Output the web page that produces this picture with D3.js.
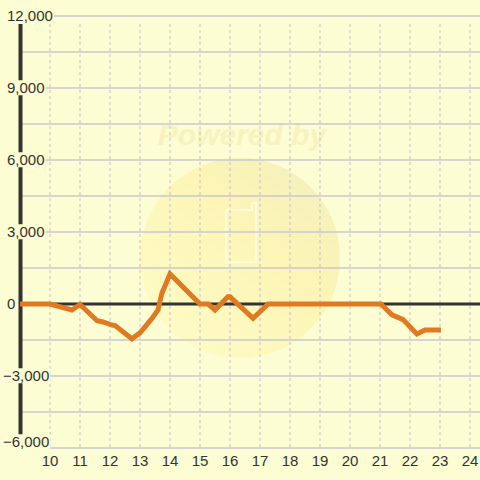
<!DOCTYPE html>
<html>
<head>
<meta charset="utf-8">
<script src="https://cdn.jsdelivr.net/npm/d3@7"></script>
<style>
  body { margin: 0; background: #fcfdd2; }
  svg { display: block; font-family: "Liberation Sans", Arial, sans-serif; }
</style>
</head>
<body>
<div id="chart"></div>
<script>
// series (x = hour, y = value)
var xs = [9, 10, 10.73, 11.0, 11.57, 11.77, 12.07, 12.17, 12.73, 13.0, 13.4, 13.6, 13.73, 14.0,
          15.0, 15.27, 15.5, 15.93, 16.0, 16.77, 17.27, 18, 19, 20, 21.03, 21.4, 21.77, 22.23, 22.5, 23.03]
var ys = [0, 0, -250, -20, -700, -750, -875, -900, -1450, -1200, -600, -250, 450, 1250,
          0, 0, -250, 300, 300, -600, 0, 0, 0, 0, 0, -450, -650, -1250, -1080, -1080]
var yTicks = [-6000, -3000, 0, 3000, 6000, 9000, 12000]
var yMinor = [-6000, -4500, -3000, -1500, 0, 1500, 3000, 4500, 6000, 7500, 9000, 10500, 12000]
var xTicks = [10, 11, 12, 13, 14, 15, 16, 17, 18, 19, 20, 21, 22, 23, 24]

var W = 480, H = 480, bg = "#fcfdd2"
var x = d3.scaleLinear().domain([9, 24]).range([20, 470])
var y = d3.scaleLinear().domain([-6000, 12000]).range([448, 16])
var fmt = d3.format(",")

var svg = d3.select("#chart").append("svg").attr("width", W).attr("height", H)
svg.append("rect").attr("width", W).attr("height", H).attr("fill", bg)

// faint watermark
var defs = svg.append("defs")
var grad = defs.append("linearGradient").attr("id", "wm").attr("x1", "0").attr("y1", "1").attr("x2", "1").attr("y2", "0")
grad.append("stop").attr("offset", "0").attr("stop-color", "#fdfcc8")
grad.append("stop").attr("offset", "0.6").attr("stop-color", "#fcf5b6")
grad.append("stop").attr("offset", "1").attr("stop-color", "#f3efc0")
svg.append("circle").attr("cx", 240).attr("cy", 258).attr("r", 100).attr("fill", "url(#wm)")
svg.append("text").attr("x", 242).attr("y", 145).attr("text-anchor", "middle")
    .attr("font-size", 30).attr("font-weight", "bold").attr("font-style", "italic")
    .attr("fill", "#f8f2bf").text("Powered by")
svg.append("path").attr("d", "M226,214 V262 H256 V203 H252 V210 H226 Z")
    .attr("fill", "none").attr("stroke", "#fdfbdc").attr("stroke-width", 2)

// grid
svg.append("g").selectAll("line").data(yMinor).join("line")
    .attr("x1", 21).attr("x2", W).attr("y1", d => y(d)).attr("y2", d => y(d))
    .attr("stroke", "#c8c8cc").attr("stroke-width", 1.5)
svg.append("g").selectAll("line").data(xTicks).join("line")
    .attr("x1", d => x(d)).attr("x2", d => x(d)).attr("y1", 24).attr("y2", 448)
    .attr("stroke", "#c2c2c6").attr("stroke-width", 1).attr("stroke-dasharray", "3,3")

// axes
svg.append("line").attr("x1", 20.5).attr("x2", 20.5).attr("y1", 24).attr("y2", 448)
    .attr("stroke", "#333").attr("stroke-width", 4)
svg.append("line").attr("x1", 21).attr("x2", W).attr("y1", y(0)).attr("y2", y(0))
    .attr("stroke", "#333").attr("stroke-width", 3)

// series
var pts = xs.map((v, i) => [v, ys[i]])
svg.append("path").datum(pts)
    .attr("d", d3.line().x(d => x(d[0])).y(d => y(d[1])))
    .attr("fill", "none").attr("stroke", "#e07a22").attr("stroke-width", 5)
    .attr("stroke-linejoin", "miter")

// y labels with background boxes
var yl = svg.append("g").selectAll("g").data(yTicks).join("g")
yl.append("text")
    .attr("x", d => d < 0 ? 3 : 7).attr("y", d => Math.min(y(d), 442)).attr("dy", "0.35em")
    .attr("font-size", 15).attr("fill", "#333").text(d => fmt(d))
    .each(function () {
        var b = this.getBBox()
        d3.select(this.parentNode).insert("rect", "text")
            .attr("x", b.x - 1).attr("y", b.y + 1).attr("width", b.width + 2).attr("height", b.height - 2)
            .attr("fill", bg)
    })

// x labels
svg.append("g").selectAll("text").data(xTicks).join("text")
    .attr("x", d => x(d)).attr("y", 466).attr("text-anchor", "middle")
    .attr("font-size", 15).attr("fill", "#333").text(d => d)
</script>
</body>
</html>
